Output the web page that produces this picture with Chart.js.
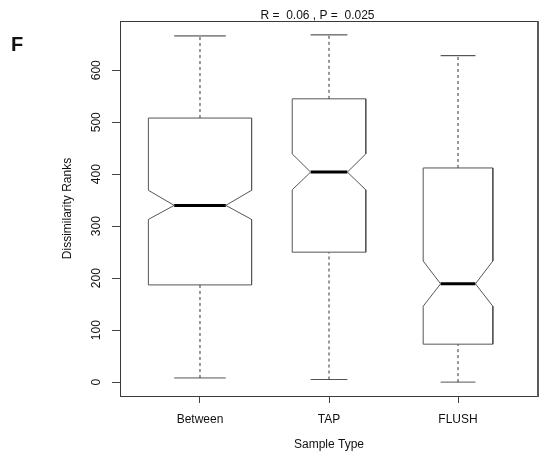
<!DOCTYPE html>
<html>
<head>
<meta charset="utf-8">
<script src="https://cdn.jsdelivr.net/npm/chart.js@4/dist/chart.umd.min.js"></script>
<style>
html,body{margin:0;padding:0;background:#fff;overflow:hidden;}
#wrap{width:541px;height:458px;position:relative;}
</style>
</head>
<body>
<div id="wrap"><canvas id="c" width="541" height="458"></canvas></div>
<script>
// ---- data ----
const categories = ['Between', 'TAP', 'FLUSH'];
const whiskerLow = [8, 5, 0];
const q1 = [187, 250, 73];
const notchLow = [313, 370, 146];
const medians = [340, 404, 189];
const notchHigh = [369, 439, 233];
const q3 = [508, 545, 412];
const whiskerHigh = [666, 668, 628];
const boxWidths = [0.80, 0.57, 0.54];   // varwidth (relative to group sizes)
const yTicks = [0, 100, 200, 300, 400, 500, 600];
const titleText = 'R =  0.06 , P =  0.025';
const panelLabel = 'F';
const xTitle = 'Sample Type';
const yTitle = 'Dissimilarity Ranks';

const FONT = "'Liberation Sans', Arial, Helvetica, sans-serif";
const BOX_COL = '#555555';
const WHISK_COL = '#333333';

const datasets = [];
categories.forEach((cat, i) => {
  const x = i + 1;
  const h = boxWidths[i] / 2;
  const base = { showLine: true, pointRadius: 0, fill: false, borderWidth: 1, label: cat };
  // notched box outline
  datasets.push(Object.assign({}, base, {
    borderColor: BOX_COL,
    data: [
      {x: x - h, y: q1[i]}, {x: x - h, y: notchLow[i]}, {x: x - h / 2, y: medians[i]},
      {x: x - h, y: notchHigh[i]}, {x: x - h, y: q3[i]}, {x: x + h, y: q3[i]},
      {x: x + h, y: notchHigh[i]}, {x: x + h / 2, y: medians[i]}, {x: x + h, y: notchLow[i]},
      {x: x + h, y: q1[i]}, {x: x - h, y: q1[i]}
    ]
  }));
  // whiskers (dashed)
  datasets.push(Object.assign({}, base, {
    borderColor: WHISK_COL, borderDash: [3, 3],
    data: [{x: x, y: q3[i]}, {x: x, y: whiskerHigh[i]}]
  }));
  datasets.push(Object.assign({}, base, {
    borderColor: WHISK_COL, borderDash: [3, 3],
    data: [{x: x, y: whiskerLow[i]}, {x: x, y: q1[i]}]
  }));
  // staples
  datasets.push(Object.assign({}, base, {
    borderColor: WHISK_COL,
    data: [{x: x - h / 2, y: whiskerHigh[i]}, {x: x + h / 2, y: whiskerHigh[i]}]
  }));
  datasets.push(Object.assign({}, base, {
    borderColor: BOX_COL,
    data: [{x: x - h / 2, y: whiskerLow[i]}, {x: x + h / 2, y: whiskerLow[i]}]
  }));
  // median
  datasets.push(Object.assign({}, base, {
    borderColor: '#000000', borderWidth: 3, borderCapStyle: 'butt',
    data: [{x: x - h / 2, y: medians[i]}, {x: x + h / 2, y: medians[i]}]
  }));
});

const yMax = Math.max(...whiskerHigh), yMin = Math.min(...whiskerLow);
const yPad = (yMax - yMin) * 0.04;
const nCat = categories.length;
const xPad = nCat * 0.04;

const framePlugin = {
  id: 'frame',
  afterDraw(chart) {
    const {ctx, chartArea: a} = chart;
    const L = Math.round(a.left), R = Math.round(a.right);
    const T = Math.round(a.top), B = Math.round(a.bottom);
    ctx.save();
    ctx.setLineDash([]);
    ctx.fillStyle = '#3a3a3a';
    ctx.fillRect(L, T, R - L, 1);
    ctx.fillRect(L, B, R - L, 1);
    ctx.fillStyle = '#5a5a5a';
    ctx.fillRect(R - 1, T, 2, B - T + 1);
    // main title
    ctx.fillStyle = '#111';
    ctx.font = '12px ' + FONT;
    ctx.textAlign = 'center';
    ctx.textBaseline = 'alphabetic';
    ctx.fillText(titleText, 317.5, 18.5);
    // panel label
    ctx.font = 'bold 20px ' + FONT;
    ctx.textAlign = 'left';
    ctx.fillText(panelLabel, 11, 51);
    ctx.restore();
  }
};

new Chart(document.getElementById('c'), {
  type: 'scatter',
  data: { datasets },
  options: {
    responsive: false,
    animation: false,
    events: [],
    layout: { padding: { top: 21, right: 3, left: 0, bottom: 0 } },
    plugins: { legend: { display: false }, tooltip: { enabled: false }, title: { display: false } },
    elements: { point: { radius: 0 }, line: { tension: 0 } },
    scales: {
      x: {
        type: 'linear',
        min: 0.5 - xPad, max: nCat + 0.5 + xPad,
        afterBuildTicks: s => { s.ticks = categories.map((c, i) => ({value: i + 1})); },
        afterFit: s => { s.height = 62; },
        ticks: {
          autoSkip: false, maxRotation: 0, minRotation: 0, padding: 9,
          color: '#111', font: { family: FONT, size: 12 },
          callback: (v) => categories[Math.round(v) - 1]
        },
        grid: { drawOnChartArea: false, drawTicks: true, tickLength: 7, color: '#444' },
        border: { display: true, color: '#3a3a3a' },
        title: { display: true, text: xTitle, color: '#111', font: { family: FONT, size: 12 }, padding: { top: 0, bottom: 6 } }
      },
      y: {
        type: 'linear',
        min: yMin - yPad, max: yMax + yPad,
        afterBuildTicks: s => { s.ticks = yTicks.map(v => ({value: v})); },
        afterFit: s => { s.width = 120; },
        ticks: {
          autoSkip: false, minRotation: 90, maxRotation: 90, crossAlign: 'center', padding: 5,
          color: '#111', font: { family: FONT, size: 12 },
          callback: v => String(v)
        },
        grid: { drawOnChartArea: false, drawTicks: true, tickLength: 8, color: '#444' },
        border: { display: true, color: '#3a3a3a' },
        title: { display: true, text: yTitle, color: '#111', font: { family: FONT, size: 12 }, padding: { top: 60, bottom: 0 } }
      }
    }
  },
  plugins: [framePlugin]
});
</script>
</body>
</html>
